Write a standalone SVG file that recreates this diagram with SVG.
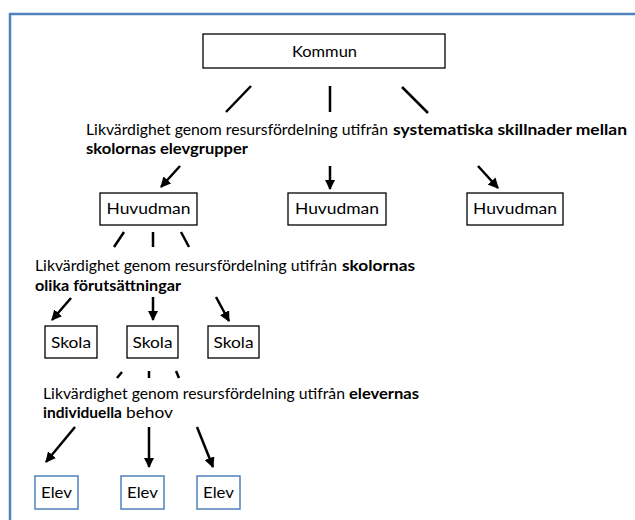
<svg xmlns="http://www.w3.org/2000/svg" width="635" height="520" viewBox="0 0 635 520">
<defs>
<marker id="ah" viewBox="0 0 10 10" refX="9" refY="5" markerWidth="4.2" markerHeight="4.2" orient="auto" markerUnits="strokeWidth">
<path d="M0,0 L10,5 L0,10 z" fill="#000"/>
</marker>
<style>
.box{fill:#fff;stroke:#000;stroke-width:1.3}
.bbox{fill:#fff;stroke:#4f81bd;stroke-width:1.5}
.t{font-family:Lato,"Liberation Sans",Arial,sans-serif;font-size:16px;fill:#000}
.c{text-anchor:middle}
.b{font-weight:bold}
.ln{stroke:#000;stroke-width:2.5;fill:none}
.ar{stroke:#000;stroke-width:2.5;fill:none;marker-end:url(#ah)}
</style>
</defs>
<rect x="0" y="0" width="635" height="520" fill="#fff"/>
<path d="M10,521 L10,14 L636,14" fill="none" stroke="#4f81bd" stroke-width="2.5"/>

<g id="kommun"><rect class="box" x="203" y="34" width="242" height="34"/><text class="t c" x="324.5" y="57" textLength="65" lengthAdjust="spacingAndGlyphs">Kommun</text></g>

<g id="label1">
<text class="t" x="86" y="135" textLength="302" lengthAdjust="spacingAndGlyphs">Likvärdighet genom resursfördelning utifrån</text>
<text class="t b" x="393" y="135" textLength="234" lengthAdjust="spacingAndGlyphs">systematiska skillnader mellan</text>
<text class="t b" x="86" y="154" textLength="162" lengthAdjust="spacingAndGlyphs">skolornas elevgrupper</text>
</g>

<g id="huvudman1"><rect class="box" x="100" y="193" width="97" height="32"/><text class="t c" x="148.5" y="214" textLength="84" lengthAdjust="spacingAndGlyphs">Huvudman</text></g>
<g id="huvudman2"><rect class="box" x="288" y="193" width="98" height="32"/><text class="t c" x="337" y="214" textLength="84" lengthAdjust="spacingAndGlyphs">Huvudman</text></g>
<g id="huvudman3"><rect class="box" x="467" y="193" width="96" height="32"/><text class="t c" x="515" y="214" textLength="84" lengthAdjust="spacingAndGlyphs">Huvudman</text></g>

<g id="label2">
<text class="t" x="35" y="271" textLength="302" lengthAdjust="spacingAndGlyphs">Likvärdighet genom resursfördelning utifrån</text>
<text class="t b" x="342" y="271" textLength="73" lengthAdjust="spacingAndGlyphs">skolornas</text>
<text class="t b" x="35" y="291" textLength="146" lengthAdjust="spacingAndGlyphs">olika förutsättningar</text>
</g>

<g id="skola1"><rect class="box" x="45" y="326" width="52" height="32"/><text class="t c" x="71" y="348" textLength="40" lengthAdjust="spacingAndGlyphs">Skola</text></g>
<g id="skola2"><rect class="box" x="127" y="326" width="51" height="32"/><text class="t c" x="152.5" y="348" textLength="40" lengthAdjust="spacingAndGlyphs">Skola</text></g>
<g id="skola3"><rect class="box" x="208" y="326" width="51" height="32"/><text class="t c" x="233.5" y="348" textLength="40" lengthAdjust="spacingAndGlyphs">Skola</text></g>

<g id="label3">
<text class="t" x="43" y="399" textLength="302" lengthAdjust="spacingAndGlyphs">Likvärdighet genom resursfördelning utifrån</text>
<text class="t b" x="349" y="399" textLength="70" lengthAdjust="spacingAndGlyphs">elevernas</text>
<text class="t b" x="43" y="418" textLength="79" lengthAdjust="spacingAndGlyphs">individuella</text>
<text class="t" x="126" y="418" textLength="47" lengthAdjust="spacingAndGlyphs">behov</text>
</g>

<g id="elev1"><rect class="bbox" x="35" y="476" width="43" height="33"/><text class="t c" x="56.5" y="498" textLength="31" lengthAdjust="spacingAndGlyphs">Elev</text></g>
<g id="elev2"><rect class="bbox" x="121" y="476" width="43" height="33"/><text class="t c" x="142.5" y="498" textLength="31" lengthAdjust="spacingAndGlyphs">Elev</text></g>
<g id="elev3"><rect class="bbox" x="197" y="476" width="43" height="33"/><text class="t c" x="218.5" y="498" textLength="31" lengthAdjust="spacingAndGlyphs">Elev</text></g>

<g id="connectors">
<line class="ln" x1="251" y1="86" x2="226" y2="112"/>
<line class="ln" x1="330" y1="86" x2="330" y2="112"/>
<line class="ln" x1="402" y1="87" x2="428" y2="113"/>
<line class="ar" x1="180" y1="166" x2="161" y2="187"/>
<line class="ar" x1="330" y1="166" x2="330" y2="189"/>
<line class="ar" x1="478" y1="166" x2="498" y2="188"/>
<line class="ln" x1="124" y1="232" x2="114" y2="247"/>
<line class="ln" x1="153" y1="232" x2="153" y2="247"/>
<line class="ln" x1="181" y1="232" x2="189" y2="247"/>
<line class="ar" x1="71" y1="298" x2="52" y2="320"/>
<line class="ar" x1="153" y1="297" x2="153" y2="320"/>
<line class="ar" x1="216" y1="297" x2="229" y2="321"/>
<line class="ln" x1="122" y1="372" x2="117" y2="378"/>
<line class="ln" x1="149" y1="371" x2="149" y2="378"/>
<line class="ln" x1="176" y1="371" x2="179" y2="378"/>
<line class="ar" x1="75" y1="427" x2="46" y2="462"/>
<line class="ar" x1="149" y1="427" x2="149" y2="467"/>
<line class="ar" x1="197" y1="427" x2="213" y2="467"/>
</g>
</svg>
